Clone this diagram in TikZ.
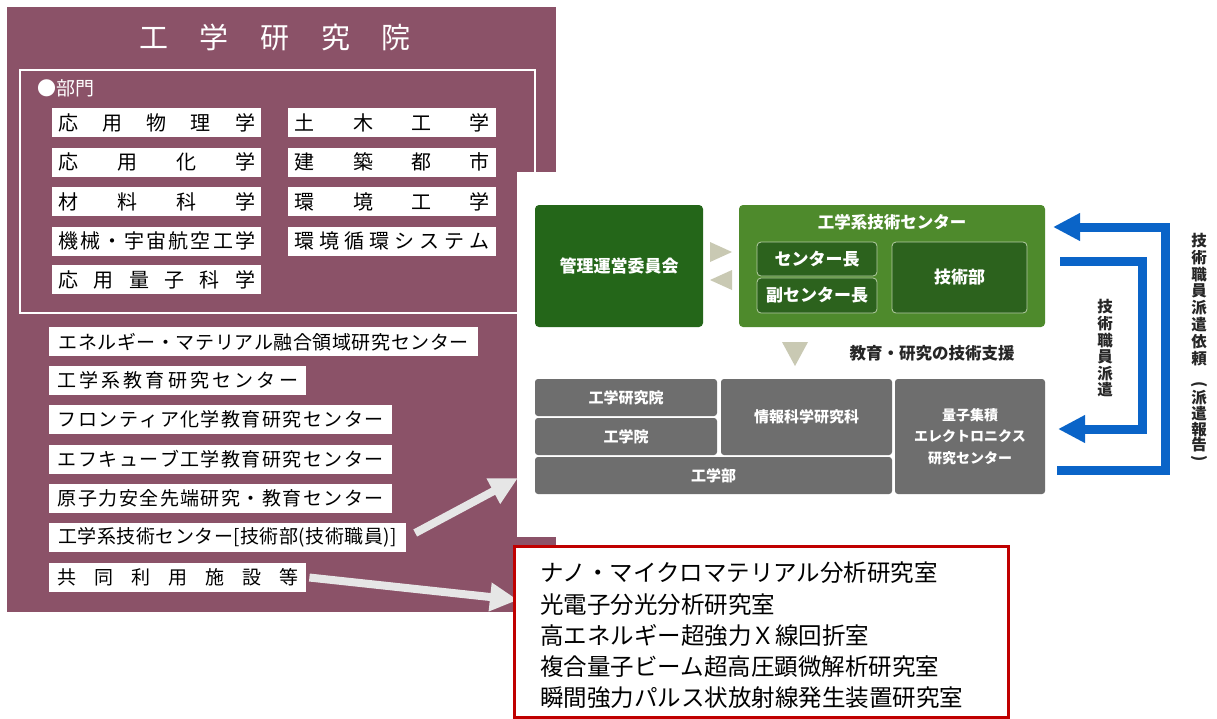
\documentclass[tikz,border=0pt]{standalone}
\usepackage{fontspec}
\newfontfamily\jp{Noto Sans CJK JP}
\usetikzlibrary{arrows.meta}
\definecolor{panel}{HTML}{8B5268}
\definecolor{dkgreen}{HTML}{246619}
\definecolor{mdgreen}{HTML}{4E8A2C}
\definecolor{ingreen}{HTML}{2C621D}
\definecolor{ingreenline}{HTML}{B5CDA5}
\definecolor{boxgray}{HTML}{6E6E6E}
\definecolor{tri}{HTML}{C9C9B3}
\definecolor{blu}{HTML}{0A64C8}
\definecolor{arrgray}{HTML}{E6E6E6}
\definecolor{redline}{HTML}{C00000}
\makeatletter
\newcommand\spr[2]{\makebox[#1][s]{\spr@a#2\relax}}
\def\spr@a#1{#1\spr@b}
\def\spr@b#1{\ifx\relax#1\else\hfil#1\expandafter\spr@b\fi}
\makeatother
\begin{document}
\begin{tikzpicture}[x=1pt,y=-1pt,
 deptbox/.style={fill=white,inner sep=0pt,anchor=north west,minimum height=29pt,text=black,font=\jp\fontsize{20}{24}\selectfont},
 unitbox/.style={deptbox,font=\jp\fontsize{19}{23}\selectfont},
 greenbox/.style={fill=dkgreen,rounded corners=4pt,inner sep=0pt,text=white,font=\jp\bfseries\fontsize{17}{20}\selectfont},
 subbox/.style={fill=ingreen,draw=ingreenline,line width=0.8pt,rounded corners=4pt,inner sep=0pt,text=white,font=\jp\bfseries\fontsize{17}{20}\selectfont},
 graybox/.style={fill=boxgray,rounded corners=3pt,inner sep=0pt,text=white,font=\jp\bfseries\fontsize{15}{21}\selectfont},
 bigarrow/.style={draw=arrgray,line width=8pt,-{Triangle[length=28pt,width=27pt]}},
 bluearrow/.style={draw=blu,line width=9pt,line join=miter,-{Triangle[length=27pt,width=26pt]}},
 vchar/.style={inner sep=0pt,font=\jp\bfseries\fontsize{15.5}{16}\selectfont,text=black!85}
]
\useasboundingbox (0,0) rectangle (1217,718);
\fill[white] (0,0) rectangle (1217,718);
% left panel
\fill[panel] (7,7) rectangle (556,612);
\draw[white,line width=1.2pt] (20,70) rectangle (535,313);
\fill[white] (516.5,172) rectangle (1217,537);

\node[inner sep=0pt,text=white,font=\jp\fontsize{29}{32}\selectfont] (title) at (275,37) {\spr{272pt}{工学研究院}};
\node[anchor=west,inner sep=0pt,text=white,font=\jp\fontsize{19}{21}\selectfont] (bumon) at (37,88) {●部門};

\node[deptbox,minimum width=209pt] (d1) at (52,108) {\spr{197pt}{応用物理学}};
\node[deptbox,minimum width=209pt] (d2) at (52,147.5) {\spr{197pt}{応用化学}};
\node[deptbox,minimum width=209pt] (d3) at (52,187) {\spr{197pt}{材料科学}};
\node[deptbox,minimum width=209pt] (d4) at (52,226.5) {\spr{197pt}{機械・宇宙航空工学}};
\node[deptbox,minimum width=209pt] (d5) at (52,265) {\spr{197pt}{応用量子科学}};
\node[deptbox,minimum width=208pt] (e1) at (288,108) {\spr{195pt}{土木工学}};
\node[deptbox,minimum width=208pt] (e2) at (288,147.5) {\spr{195pt}{建築都市}};
\node[deptbox,minimum width=208pt] (e3) at (288,187) {\spr{195pt}{環境工学}};
\node[deptbox,minimum width=208pt] (e4) at (288,226.5) {\spr{195pt}{環境循環システム}};

\node[unitbox,minimum width=429pt] (u1) at (49,327) {\spr{410pt}{エネルギー・マテリアル融合領域研究センター}};
\node[unitbox,minimum width=257pt] (u2) at (49,366) {\spr{241pt}{工学系教育研究センター}};
\node[unitbox,minimum width=343pt] (u3) at (49,405) {\spr{326pt}{フロンティア化学教育研究センター}};
\node[unitbox,minimum width=343pt] (u4) at (49,444.5) {\spr{326pt}{エフキューブ工学教育研究センター}};
\node[unitbox,minimum width=343pt] (u5) at (49,484) {\spr{326pt}{原子力安全先端研究・教育センター}};
\node[unitbox,minimum width=357pt] (u6) at (49,523) {\spr{339pt}{工学系技術センター[技術部(技術職員)]}};
\node[unitbox,minimum width=257pt] (u7) at (49,562.5) {\spr{241pt}{共同利用施設等}};

% right diagram
\node[greenbox,minimum width=168pt,minimum height=122pt] (kanri) at (619,266) {管理運営委員会};
\node[greenbox,fill=mdgreen,minimum width=306pt,minimum height=122pt] (center) at (892,266) {};
\node[inner sep=0pt,text=white,font=\jp\bfseries\fontsize{16.5}{20}\selectfont] (ctitle) at (892,222) {工学系技術センター};
\node[subbox,minimum width=120pt,minimum height=34pt] (cho) at (817,259) {センター長};
\node[subbox,minimum width=120pt,minimum height=35pt] (fuku) at (817,295.5) {副センター長};
\node[subbox,minimum width=135pt,minimum height=71pt] (gijutsu) at (959.5,277.5) {技術部};

\fill[tri] (710,242) -- (732,252) -- (710,262) -- cycle;
\fill[tri] (732,270) -- (710,280) -- (732,290) -- cycle;
\fill[tri] (782,342) -- (808,342) -- (795,366) -- cycle;
\node[inner sep=0pt,text=black!85,font=\jp\bfseries\fontsize{16.5}{20}\selectfont] (shien) at (932,353) {教育・研究の技術支援};

\node[graybox,minimum width=182pt,minimum height=37pt] (gkk) at (626,397.5) {工学研究院};
\node[graybox,minimum width=182pt,minimum height=37pt] (gin) at (626,436.5) {工学院};
\node[graybox,minimum width=171pt,minimum height=76pt] (joho) at (806.5,417) {情報科学研究科};
\node[graybox,minimum width=357pt,minimum height=37pt] (gbu) at (713.5,475.5) {工学部};
\node[graybox,minimum width=150pt,minimum height=115pt,align=center,font=\jp\bfseries\fontsize{14}{21.5}\selectfont] (ryo) at (970,436.5) {量子集積\\エレクトロニクス\\研究センター};

% blue arrows
\coordinate (o1) at (1057,470);
\coordinate (o2) at (1165,470);
\coordinate (o3) at (1165,227);
\coordinate (o4) at (1053,227);
\coordinate (i1) at (1060,261);
\coordinate (i2) at (1142,261);
\coordinate (i3) at (1142,429);
\coordinate (i4) at (1058,429);
\draw[bluearrow] (o1) -- (o2) -- (o3) -- (o4);
\draw[bluearrow] (i1) -- (i2) -- (i3) -- (i4);

\foreach \c/\yy [count=\i] in {技/307,術/323.6,職/340.2,員/356.8,派/373.4,遣/390}
  \node[vchar] (vin\i) at (1105,\yy) {\c};
\foreach \c/\yy [count=\i] in {技/241,術/257.7,職/274.4,員/291.1,派/307.8,遣/324.5,依/341.5,頼/358.5,派/397.5,遣/413.5,報/429.5,告/445}
  \node[vchar] (vout\i) at (1199,\yy) {\c};
\node[vchar] (vpl) at (1199,385) {\rotatebox{-90}{(}};
\node[vchar] (vpr) at (1199,458.5) {\rotatebox{-90}{)}};

% gray pointer arrows
\coordinate (tipA) at (518,478);
\coordinate (tipB) at (518,600);
\draw[bigarrow,shorten <=10pt] (u6.east) -- (tipA);
\draw[bigarrow,shorten <=3pt] (u7.east) -- (tipB);

% lab box
\node[draw=redline,line width=3pt,fill=white,minimum width=494pt,minimum height=171pt,anchor=north west,inner sep=0pt] (labbox) at (513,545) {};
\node[anchor=west,inner sep=0pt,align=left,font=\jp\fontsize{23.5}{31.2}\selectfont] (labs) at (540,635.5) {ナノ・マイクロマテリアル分析研究室\\光電子分光分析研究室\\高エネルギー超強力Ｘ線回折室\\複合量子ビーム超高圧顕微解析研究室\\瞬間強力パルス状放射線発生装置研究室};
\end{tikzpicture}
\end{document}
